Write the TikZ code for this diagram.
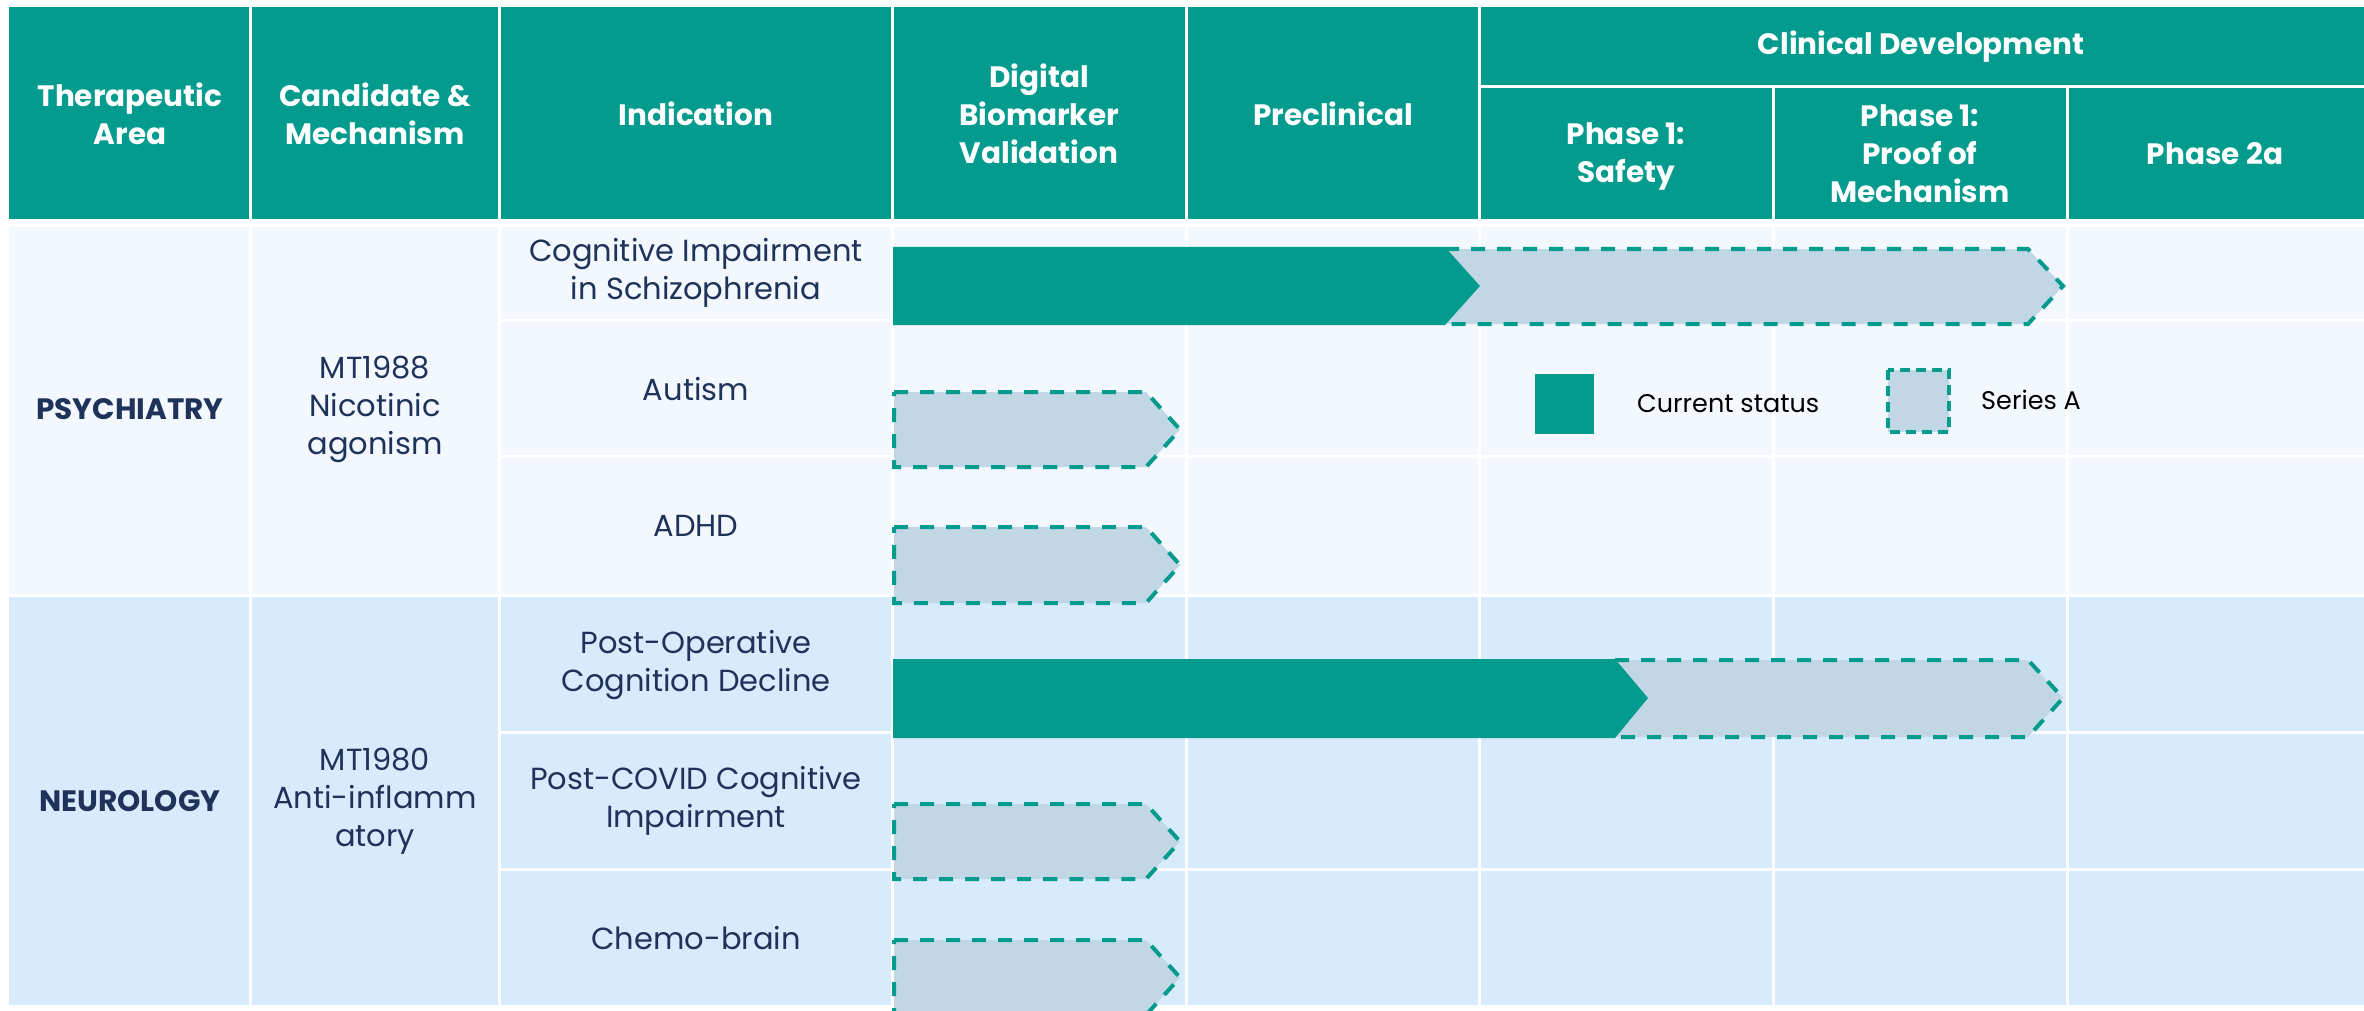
\documentclass[tikz,border=0pt]{standalone}
\usepackage{fontspec}
\setmainfont{Poppins}
\definecolor{teal}{HTML}{029B8D}
\definecolor{psyband}{HTML}{F3F8FE}
\definecolor{neuband}{HTML}{D8EBFC}
\definecolor{barlight}{HTML}{C2D7E6}
\definecolor{navy}{HTML}{1F3259}
\tikzset{
  headtxt/.style={text=white, align=center, font=\fontsize{29.5}{38}\selectfont\bfseries, inner sep=0},
  bodytxt/.style={text=navy, align=center, font=\fontsize{30.5}{38}\selectfont, inner sep=0},
  areatxt/.style={text=navy, align=center, font=\fontsize{29.5}{38}\selectfont\bfseries, inner sep=0},
  legtxt/.style={text=black, anchor=west, font=\fontsize{25.5}{30}\selectfont, inner sep=0},
  sep/.style={draw=white, line width=3},
  curbar/.style={fill=teal},
  serfill/.style={fill=barlight},
  serline/.style={draw=teal, line width=4, dash pattern=on 14 off 12},
  serbar/.style={fill=barlight, draw=teal, line width=4, dash pattern=on 14 off 12},
}
\begin{document}
\begin{tikzpicture}[x=1pt,y=-1pt]
\useasboundingbox (0,0) rectangle (2364,1011);
% header
\fill[teal] (9,7) rectangle (2364,219);
\draw[sep] (250,7) -- (250,219) (499,7) -- (499,219) (892,7) -- (892,219)
  (1186,7) -- (1186,219) (1479,7) -- (1479,219)
  (1773,87) -- (1773,219) (2067,87) -- (2067,219) (1479,87) -- (2364,87);
% bands
\fill[psyband] (9,227) rectangle (2364,594);
\fill[neuband] (9,597) rectangle (2364,1005);
\draw[sep] (250,227) -- (250,594) (499,227) -- (499,594) (892,227) -- (892,594)
  (1186,227) -- (1186,594) (1479,227) -- (1479,594) (1773,227) -- (1773,594) (2067,227) -- (2067,594);
\draw[sep] (250,597) -- (250,1005) (499,597) -- (499,1005) (892,597) -- (892,1005)
  (1186,597) -- (1186,1005) (1479,597) -- (1479,1005) (1773,597) -- (1773,1005) (2067,597) -- (2067,1005);
\draw[sep] (499,320) -- (2364,320) (499,456) -- (2364,456)
  (499,732) -- (2364,732) (499,869) -- (2364,869);
% header text
\node[headtxt] (hArea) at (130,114) {Therapeutic\\Area};
\node[headtxt] (hCand) at (375,114) {Candidate \&\\Mechanism};
\node[headtxt] (hInd) at (696,114) {Indication};
\node[headtxt] (hDig) at (1039,114) {Digital\\Biomarker\\Validation};
\node[headtxt] (hPre) at (1333,114) {Preclinical};
\node[headtxt] (hClin) at (1921,47) {Clinical Development};
\node[headtxt] (hP1s) at (1626,156) {Phase 1:\\Safety};
\node[headtxt] (hP1p) at (1920,154) {Phase 1:\\Proof of\\Mechanism};
\node[headtxt] (hP2a) at (2215,154) {Phase 2a};
% body text
\node[areatxt] (psy) at (130,409) {PSYCHIATRY};
\node[bodytxt] (mt88) at (375,409) {MT1988\\Nicotinic\\agonism};
\node[bodytxt] (cis) at (696,273) {Cognitive Impairment\\in Schizophrenia};
\node[bodytxt] (aut) at (696,389) {Autism};
\node[bodytxt] (adhd) at (696,526) {ADHD};
\node[areatxt] (neu) at (130,801) {NEUROLOGY};
\node[bodytxt] (mt80) at (375,801) {MT1980\\Anti-inflamm\\atory};
\node[bodytxt] (pocd) at (696,665) {Post-Operative\\Cognition Decline};
\node[bodytxt] (pcov) at (696,801) {Post-COVID Cognitive\\Impairment};
\node[bodytxt] (chemo) at (696,938) {Chemo-brain};
% bars
\fill[serfill] (1445,249) -- (2028,249) -- (2063,286) -- (2028,324) -- (1445,324) -- (1480,286) -- cycle;
\draw[serline] (1445,249) -- (2028,249) -- (2063,286) -- (2028,324) -- (1445,324);
\fill[curbar] (893,247) -- (1445,247) -- (1480,286) -- (1445,325) -- (893,325) -- cycle;
\fill[serfill] (1605,660) -- (2028,660) -- (2063,698) -- (2028,737) -- (1605,737) -- (1640,698) -- cycle;
\draw[serline] (1615,660) -- (2028,660) -- (2063,698) -- (2028,737) -- (1615,737);
\fill[curbar] (893,659) -- (1615,659) -- (1648,698) -- (1615,738) -- (893,738) -- cycle;
\draw[serbar] (894,392) -- (1146,392) -- (1180,429.5) -- (1146,467) -- (894,467) -- cycle;
\draw[serbar] (894,527) -- (1146,527) -- (1180,565) -- (1146,603) -- (894,603) -- cycle;
\draw[serbar] (894,804) -- (1146,804) -- (1180,841.5) -- (1146,879) -- (894,879) -- cycle;
\draw[serbar] (894,940) -- (1146,940) -- (1180,977.5) -- (1146,1015) -- (894,1015) -- cycle;
% legend
\fill[curbar] (1535,374) rectangle (1594,434);
\node[legtxt] (lcur) at (1637,404) {Current status};
\draw[serbar, line width=3.5, dash pattern=on 10 off 6] (1888,370) rectangle (1949,432);
\node[legtxt] (lser) at (1981,400) {Series A};
\end{tikzpicture}
\end{document}
